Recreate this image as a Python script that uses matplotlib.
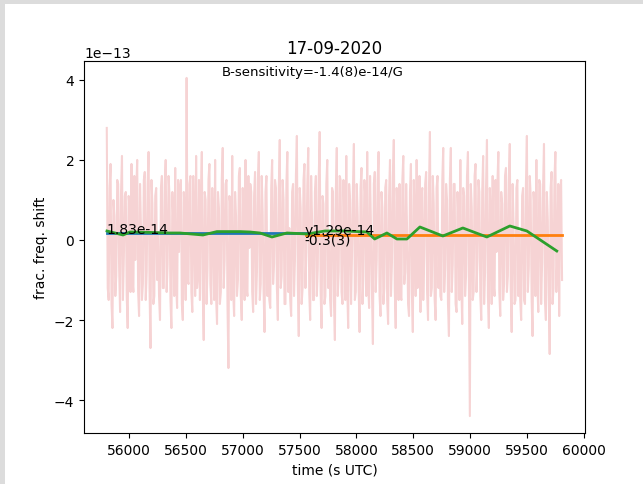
import numpy as np
import matplotlib
matplotlib.use("Agg")
import matplotlib.pyplot as plt
from matplotlib.patches import Rectangle

# ---- data (fractional frequency shift in units of 1e-13) ----
t_start = 55804.0
t_step = 8.36
shift_raw = [
    2.8, -1.2, -1.5, 1.3, 1.9, -1.6, -2.2, 1.0, 0.6, -1.4, -0.9, 1.5, 1.4, -0.7, -1.8, 1.2, 2.1, -1.5, -0.4, 1.1,
    1.2, -1.4, -2.2, 1.1, 0.8, -1.3, 1.9, -1.0, -1.3, 1.6, -0.5, 1.2, 2.0, -1.3, -1.9, 1.4, 0.3, -1.5, -1.1, 1.5,
    1.7, -1.5, -0.8, 1.4, 2.2, -1.2, -2.7, 1.5, 0.9, -1.6, -1.4, 1.1, 1.3, -1.0, 0.2, -1.4, -2.0, 1.3, 1.6, -1.2,
    -1.2, 1.4, 2.0, -1.3, -0.6, 1.6, 1.1, -1.5, -2.2, 1.2, 0.5, -1.4, 1.8, -1.1, -1.7, 1.5, -0.3, 1.3, 1.5, -1.6,
    -2.0, 1.2, 0.7, -1.5, 4.05, -1.0, -1.1, 1.4, 1.6, -1.3, -1.8, 1.6, 0.4, -1.4, 2.1, -1.2, -0.9, 1.5, -1.5, 1.1,
    2.2, -1.3, -2.5, 1.2, 1.0, -1.6, -0.7, 1.5, 1.9, -1.1, -1.6, 1.3, 0.3, -1.5, 2.0, -1.4, -2.1, 1.2, 0.8, -1.6,
    -1.3, 1.5, 2.3, -1.2, -0.5, 1.4, 1.5, -1.6, -3.2, 1.1, 0.9, -1.5, 2.1, -1.3, -1.9, 1.2, 0.6, -1.4, -1.0, 1.6,
    1.8, -1.4, -2.0, 1.3, 0.4, -1.5, 2.0, -1.2, -1.4, 1.6, -0.2, 1.4, 1.2, -1.3, -1.8, 1.1, 1.7, -1.6, -0.8, 1.5,
    2.2, -1.5, -1.1, 1.6, 0.7, -1.3, -2.3, 1.2, 1.6, -1.4, 0.1, -1.5, -1.7, 1.3, 2.0, -1.1, -0.6, 1.5, 1.3, -1.2,
    -2.0, 1.3, 2.5, -1.2, -0.9, 1.5, 1.0, -1.6, -1.6, 1.4, 2.2, -1.3, 0.3, -1.5, -1.9, 1.2, 1.4, -1.4, -0.5, 1.6,
    2.6, -1.1, -2.4, 1.3, 0.8, -1.6, -1.2, 1.5, 1.9, -1.2, -0.3, 1.4, 2.3, -1.3, -2.0, 1.6, 0.5, -1.5, -1.5, 1.2,
    1.6, -1.4, -0.7, 1.5, 2.7, -1.3, -2.2, 1.1, 0.9, -1.6, -1.4, 1.4, 2.0, -1.2, 0.2, -1.5, -1.9, 1.3, 1.2, -1.5,
    -2.5, 1.2, 2.3, -1.4, -0.8, 1.6, 1.5, -1.3, -1.6, 1.5, 0.4, -1.5, 2.1, -1.2, -2.2, 1.4, 1.0, -1.6, -0.4, 1.3,
    2.4, -1.5, -1.3, 1.4, 0.6, -1.2, -2.3, 1.3, 1.8, -1.6, -0.9, 1.5, 1.1, -1.4, 2.2, -1.1, -1.7, 1.6, 0.3, -1.3,
    -2.6, 1.4, 1.7, -1.3, -0.5, 1.5, 2.2, -1.4, -1.9, 1.2, 0.8, -1.6, -1.2, 1.3, 1.5, -1.5, -2.1, 1.1, 2.0, -1.4,
    -0.6, 1.6, 2.5, -1.2, -2.2, 1.3, 0.7, -1.5, 1.4, -1.4, -1.5, 1.5, 2.1, -1.1, -0.8, 1.4, 0.2, -1.6, -1.9, 1.2,
    1.9, -1.3, -2.3, 1.5, 0.5, -1.4, 2.0, -1.2, -1.0, 1.6, -1.8, 1.1, 1.3, -1.5, -0.4, 1.4, 1.7, -1.3, -2.0, 1.3,
    2.7, -1.4, -1.2, 1.6, 0.9, -1.5, -2.0, 1.3, 1.6, -1.2, 0.1, -1.4, -1.5, 1.5, 2.3, -1.3, -0.7, 1.4, 1.0, -1.6,
    -2.4, 1.5, 2.3, -1.3, -0.6, 1.4, 1.4, -1.6, -1.8, 1.2, 0.5, -1.5, 2.0, -1.1, -2.1, 1.3, 1.1, -1.4, -0.9, 1.6,
    2.2, -1.2, -4.4, 1.4, 0.8, -1.5, -1.3, 1.6, 1.9, -1.3, -0.5, 1.5, 1.2, -1.4, -2.0, 1.2, 2.1, -1.6, -0.8, 1.3,
    2.5, -1.4, -2.2, 1.3, 0.6, -1.6, 1.6, -1.1, -1.4, 1.5, -0.3, 1.4, 2.2, -1.3, -1.9, 1.2, 0.9, -1.5, -1.1, 1.6,
    1.8, -1.3, -0.9, 1.5, 2.4, -1.2, -2.3, 1.4, 0.4, -1.6, -1.5, 1.3, 1.5, -1.4, 0.2, -1.5, -2.0, 1.1, 1.3, -1.5,
    -1.6, 1.4, 2.6, -1.3, -0.7, 1.6, 1.1, -1.5, -2.4, 1.2, 0.8, -1.4, 2.0, -1.1, -1.8, 1.5, 1.4, -1.6, -0.6, 1.3,
    2.4, -1.5, -2.0, 1.2, 0.5, -1.4, -2.85, 1.3, 1.7, -1.6, -1.2, 1.5, 2.2, -1.3, -0.4, 1.4, -1.9, 1.2, 1.5, -1.0,
]
scale = 1e-13

# moving average (green)
avg_t = [55806, 55947, 56008, 56184, 56360, 56448, 56650, 56773, 56975, 57063,
         57151, 57257, 57389, 57565, 57723, 57899, 58092, 58160, 58268, 58356,
         58444, 58558, 58760, 58936, 59147, 59349, 59499, 59762]
avg_v = [0.225, 0.125, 0.2, 0.19, 0.175, 0.175, 0.125, 0.21, 0.21, 0.2,
         0.175, 0.075, 0.175, 0.15, 0.225, 0.225, 0.2, 0.025, 0.175, 0.025,
         0.025, 0.325, 0.1, 0.3, 0.075, 0.35, 0.225, -0.275]

# segment means
seg1_t = [55804, 57555]
seg1_mean = 1.83e-14
seg2_t = [57555, 59810]
seg2_mean = 1.29e-14

title = "17-09-2020"
sens_label = "B-sensitivity=-1.4(8)e-14/G"
seg1_label = "1.83e-14"
seg2_label = "y1.29e-14"
slope_label = "-0.3(3)"

# ---- figure ----
fig = plt.figure(figsize=(6.43, 4.85), dpi=100, facecolor="#dcdcdc")
fig.patches.append(Rectangle((4.5 / 643, 0), 1, 1 - 4.5 / 485,
                             transform=fig.transFigure, facecolor="white",
                             edgecolor="none", zorder=-10))
ax = fig.add_axes([84 / 643, 51 / 485, 501 / 643, 372 / 485])

t = t_start + t_step * np.arange(len(shift_raw))
y = np.array(shift_raw) * scale
ax.plot(t, y, color="tab:red", alpha=0.2, lw=1.5)
ax.plot(seg1_t, [seg1_mean, seg1_mean], color="tab:blue", lw=2)
ax.plot(seg2_t, [seg2_mean, seg2_mean], color="tab:orange", lw=2)
ax.plot(avg_t, np.array(avg_v) * scale, color="tab:green", lw=2)

ax.text(seg1_t[0], seg1_mean, seg1_label, fontsize=10)
ax.text(seg2_t[0] - 15, 1.5e-14, seg2_label, fontsize=10)
ax.text(seg2_t[0] - 15, -1.0e-14, slope_label, fontsize=10)
ax.text(0.275, 0.962, sens_label, transform=ax.transAxes, fontsize=9.5)

ax.set_title(title)
ax.set_xlabel("time (s UTC)")
ax.set_ylabel("frac. freq. shift")

fig.savefig("out.png", dpi=100, facecolor=fig.get_facecolor())
